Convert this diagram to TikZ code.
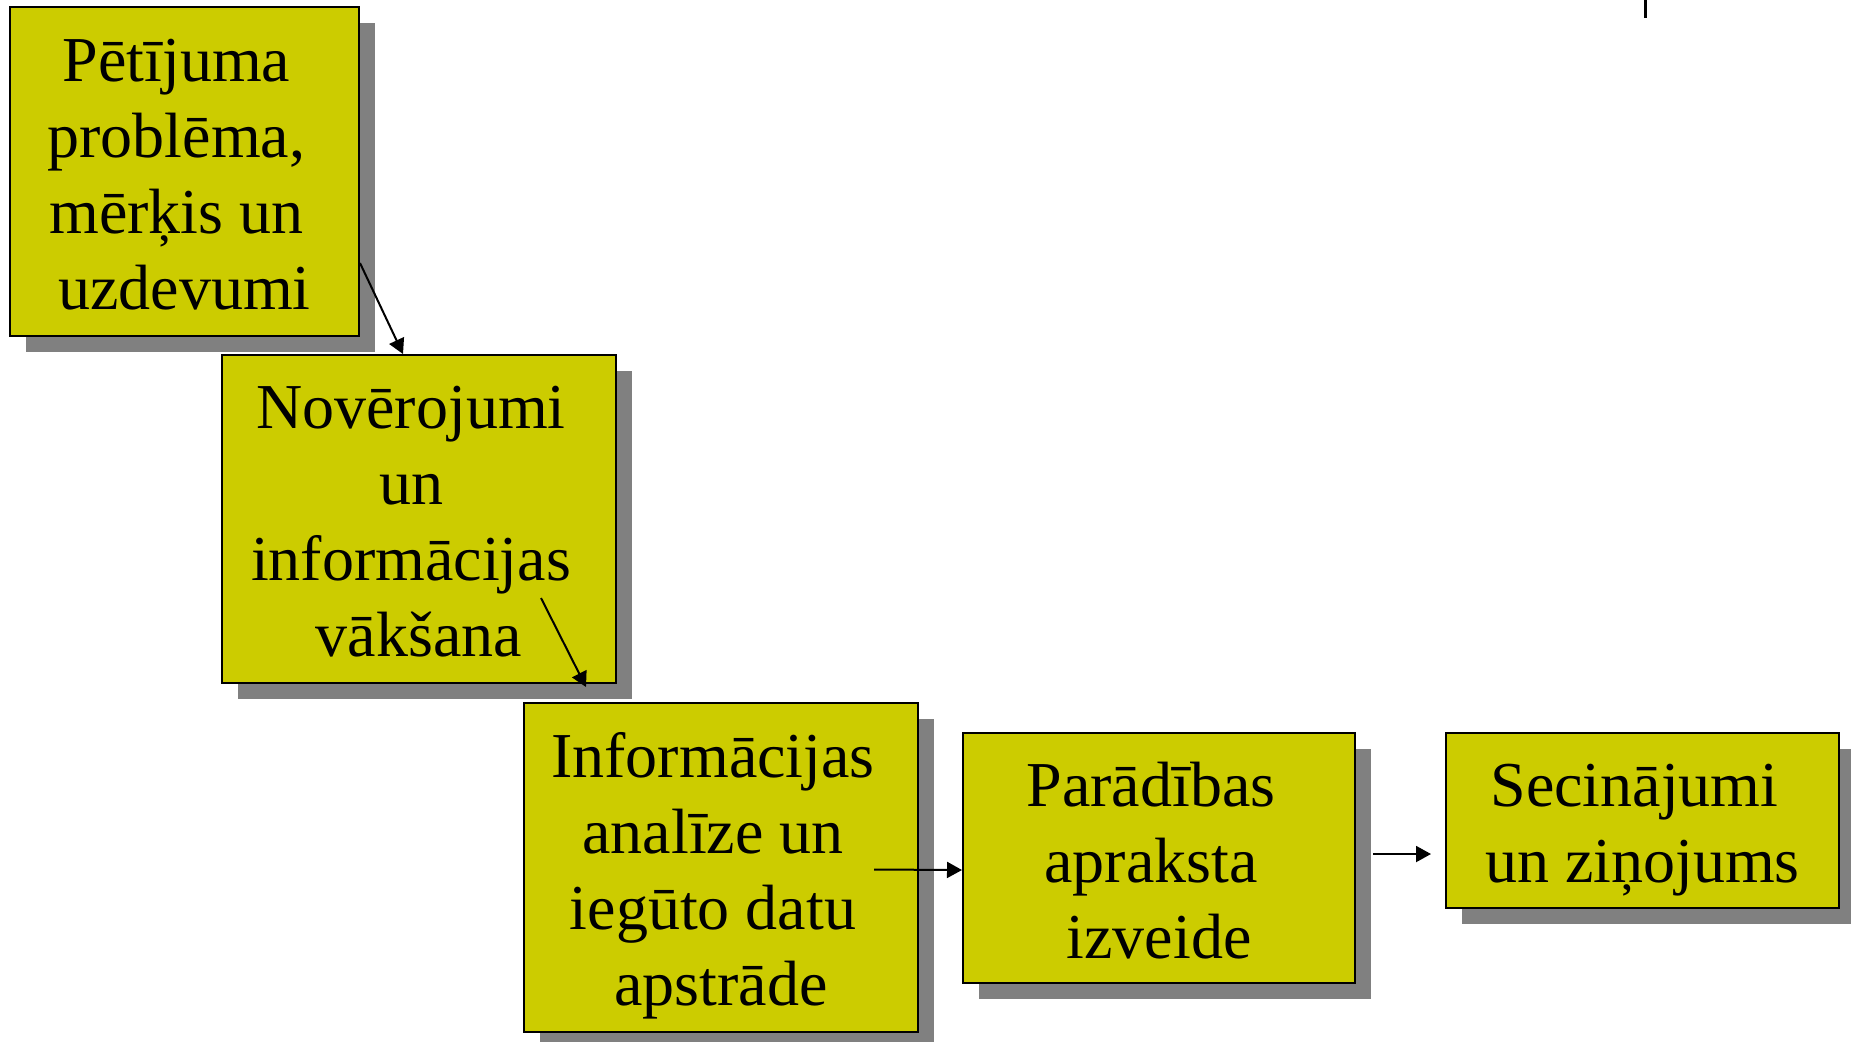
\documentclass[tikz,border=0pt]{standalone}
\usepackage{fontspec}
\setmainfont{Liberation Serif}
\usetikzlibrary{arrows.meta,shadows}

\definecolor{boxyellow}{RGB}{204,204,0}
\definecolor{shadowgray}{RGB}{128,128,128}

% lines of a box, lowered a little inside the box
\newcommand{\boxlines}[2]{\raisebox{#1}[\height][\depth]{\begin{tabular}{@{}c@{}}#2\end{tabular}}}
% trailing space at the end of a line
\newcommand{\tsp}{\kern0.25em}

\tikzset{
  stagebox/.style={draw=black, line width=1pt, fill=boxyellow, inner sep=0pt,
    font=\fontsize{32}{38}\selectfont,
    drop shadow={shadow xshift=8pt, shadow yshift=-8pt, fill=shadowgray, opacity=1}},
  flowarrow/.style={line width=1pt, -{Triangle[length=7.5pt,width=8pt]}}
}

\begin{document}
\begin{tikzpicture}[x=0.5pt,y=-0.5pt]
      \useasboundingbox (0,0) rectangle (1851,1041);

      %Shape: Rectangle [id:prob]
      \node (prob) [stagebox, minimum width=174.5pt, minimum height=164.5pt] at (184.5,171.5)
        {\boxlines{-4.6pt}{P\={e}t\={\i}juma\tsp\\probl\={e}ma,\tsp\\m\={e}r\c{k}is un\tsp\\uzdevumi}};
      %Shape: Rectangle [id:obs]
      \node (obs) [stagebox, minimum width=197pt, minimum height=164pt] at (419,519)
        {\boxlines{-4.2pt}{Nov\={e}rojumi\tsp\\un\tsp\\inform\={a}cijas\tsp\\v\={a}k\v{s}ana}};
      %Shape: Rectangle [id:ana]
      \node (ana) [stagebox, minimum width=197pt, minimum height=164.5pt] at (721,867.5)
        {\boxlines{-4.3pt}{Inform\={a}cijas\tsp\\anal\={\i}ze un\tsp\\ieg\={u}to datu\tsp\\apstr\={a}de}};
      %Shape: Rectangle [id:par]
      \node (par) [stagebox, minimum width=196pt, minimum height=125pt] at (1159,858)
        {\boxlines{-4.6pt}{Par\={a}d\={\i}bas\tsp\\apraksta\tsp\\izveide}};
      %Shape: Rectangle [id:sec]
      \node (sec) [stagebox, minimum width=196.5pt, minimum height=87.5pt] at (1642.5,820.5)
        {\boxlines{-4.5pt}{Secin\={a}jumi\tsp\\un zi\c{n}ojums}};

      % Arrows
      \draw [flowarrow] ([yshift=37pt]prob.south east) -- ([xshift=91pt]obs.north west);
      \draw [flowarrow] ([xshift=-38pt,yshift=43pt]obs.south east) -- ([xshift=-15.5pt,yshift=-1.5pt]obs.south east);
      \draw [flowarrow] ([xshift=-22.5pt,yshift=-1pt]ana.east) -- ([yshift=-6pt]par.west);
      \draw [flowarrow] ([xshift=8.5pt,yshift=2pt]par.east) -- ([xshift=-7pt,yshift=-16.75pt]sec.west);

      %Shape: Line [id:tick]
      \coordinate (tickTop) at (1645,0);
      \coordinate (tickEnd) at (1645,18);
      \draw [line width=1.5pt] (tickTop) -- (tickEnd);

\end{tikzpicture}
\end{document}
